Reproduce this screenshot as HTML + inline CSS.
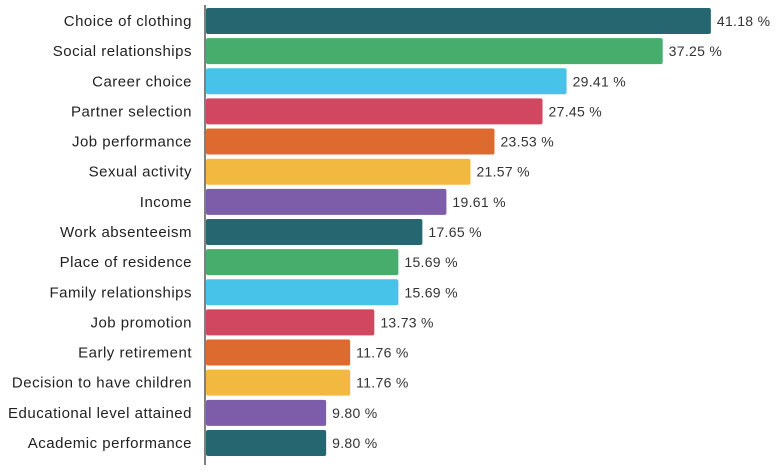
<!DOCTYPE html>
<html><head><meta charset="utf-8">
<style>
body{margin:0;background:#fff;width:778px;height:471px;overflow:hidden;font-family:"Liberation Sans",sans-serif}
</style></head><body>
<svg id="chart" width="778" height="471" xmlns="http://www.w3.org/2000/svg"></svg>
<script>
const categories=["Choice of clothing","Social relationships","Career choice","Partner selection","Job performance","Sexual activity","Income","Work absenteeism","Place of residence","Family relationships","Job promotion","Early retirement","Decision to have children","Educational level attained","Academic performance"];
const values=[41.18,37.25,29.41,27.45,23.53,21.57,19.61,17.65,15.69,15.69,13.73,11.76,11.76,9.80,9.80];
const colors=["#256670","#47ad6d","#47c2e8","#d0475f","#dd6a2e","#f2b940","#7d5ca9"];
const svg=document.getElementById('chart');
const NS="http://www.w3.org/2000/svg";
const x0=206, scale=12.26, top0=8, pitch=30.14, bh=26;
const xs=v=>v*scale;
const ys=i=>top0+i*pitch;
categories.forEach((c,i)=>{
  const r=document.createElementNS(NS,'rect');
  r.setAttribute('x',x0);r.setAttribute('y',ys(i));
  r.setAttribute('width',xs(values[i]));r.setAttribute('height',bh);
  r.setAttribute('rx',2);r.setAttribute('fill',colors[i%7]);
  
  
  svg.appendChild(r);
  const t=document.createElementNS(NS,'text');
  t.setAttribute('x',192);t.setAttribute('y',ys(i)+bh/2+5);
  t.setAttribute('text-anchor','end');t.setAttribute('font-size','15');t.setAttribute('letter-spacing','0.5');t.setAttribute('fill','#222');
  t.textContent=c;
  
  
  svg.appendChild(t);
  const v=document.createElementNS(NS,'text');
  v.setAttribute('x',x0+xs(values[i])+6);v.setAttribute('y',ys(i)+bh/2+5);
  v.setAttribute('font-size','14');v.setAttribute('letter-spacing','0.3');v.setAttribute('fill','#333');
  v.textContent=values[i].toFixed(2)+' %';
  
  
  svg.appendChild(v);
});
const ax=document.createElementNS(NS,'line');
ax.setAttribute('x1',205);ax.setAttribute('x2',205);ax.setAttribute('y1',5);ax.setAttribute('y2',465);
ax.setAttribute('stroke','#555');ax.setAttribute('stroke-width','1.5');


svg.appendChild(ax);
</script>
</body></html>
